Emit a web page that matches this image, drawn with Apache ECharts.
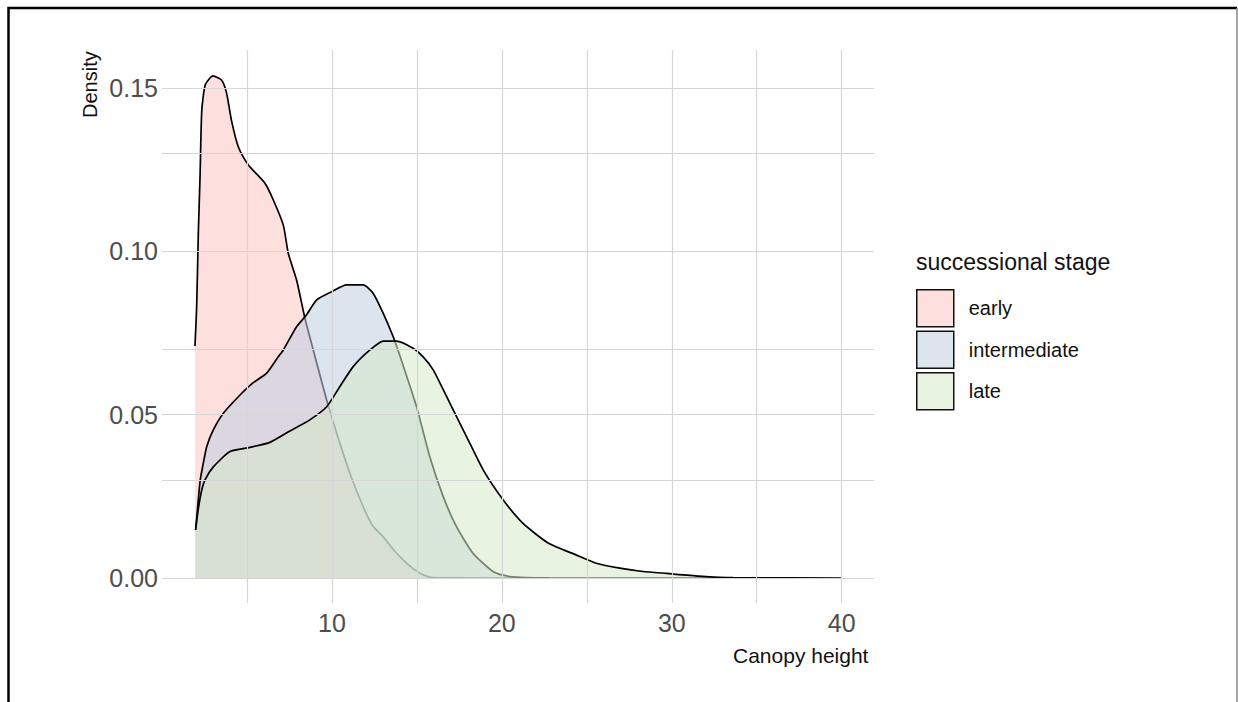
<!DOCTYPE html>
<html>
<head>
<meta charset="utf-8">
<script src="https://cdn.jsdelivr.net/npm/echarts@6/dist/echarts.min.js"></script>
<style>html,body{margin:0;padding:0;background:#fff;}#c{width:1238px;height:702px;}</style>
</head>
<body>
<div id="c"></div>
<script>
// ---- data ----
const stages = ['early', 'intermediate', 'late'];
const fillColors = ['rgba(251,197,193,0.55)', 'rgba(191,206,224,0.55)', 'rgba(213,233,202,0.55)'];

const earlyX = [1.94, 2.04, 2.14, 2.24, 2.34, 2.55, 3.0, 3.5, 3.8, 4.09, 4.49, 5.08, 5.6, 6.06, 6.55, 7.14, 7.43, 7.92, 8.41, 8.9, 9.3, 9.69, 10.28, 11.06, 11.84, 12.4, 13.02, 13.6, 14.2, 14.8, 15.4, 15.9, 20, 33.6];
const earlyY = [0.071, 0.083, 0.106, 0.123, 0.143, 0.151, 0.1537, 0.1524, 0.1484, 0.140, 0.132, 0.1264, 0.1235, 0.1208, 0.1157, 0.108, 0.0994, 0.0912, 0.0795, 0.0698, 0.062, 0.0545, 0.0443, 0.032, 0.0218, 0.016, 0.0126, 0.0088, 0.0055, 0.0028, 0.0009, 0.0001, 0, 0];

const interX = [1.98, 2.1, 2.25, 2.43, 2.63, 3.02, 3.61, 4.59, 5.3, 6.16, 6.84, 7.14, 7.92, 8.5, 9.1, 9.98, 10.86, 11.84, 12.43, 13.02, 13.6, 14.0, 14.98, 15.76, 16.55, 17.33, 18.3, 19.5, 20.5, 21.5, 22.8];
const interY = [0.0147, 0.0218, 0.03, 0.0351, 0.0402, 0.0453, 0.0504, 0.056, 0.0595, 0.0627, 0.0677, 0.0698, 0.0769, 0.0805, 0.0851, 0.0876, 0.0897, 0.0897, 0.0871, 0.081, 0.0739, 0.068, 0.0524, 0.0371, 0.0249, 0.0157, 0.0076, 0.0019, 0.0004, 0.0001, 0];

const lateX = [1.98, 2.1, 2.3, 2.53, 3.02, 4.0, 5.18, 6.35, 7.53, 8.7, 9.69, 10.47, 11.25, 12.24, 13.02, 13.8, 14.78, 15.37, 15.96, 16.94, 17.92, 18.9, 20.08, 21.25, 22.7, 24.39, 25.56, 26.94, 28.3, 29.7, 31.6, 33.6, 40];
const lateY = [0.0147, 0.0198, 0.026, 0.030, 0.034, 0.0387, 0.040, 0.0415, 0.045, 0.0484, 0.0524, 0.0586, 0.0647, 0.0698, 0.0725, 0.0725, 0.0703, 0.0677, 0.0637, 0.0535, 0.0433, 0.0331, 0.0239, 0.0167, 0.0108, 0.007, 0.0045, 0.003, 0.002, 0.0014, 0.0006, 0.0001, 0];

const xTickLabels = [10, 20, 30, 40];
const yTickLabels = [0, 0.05, 0.10, 0.15];
const xGrid = [5, 10, 15, 20, 25, 30, 35, 40];
const yGrid = [0, 0.025, 0.05, 0.075, 0.10, 0.125, 0.15];

// ---- chart ----
const FONT = "'Liberation Sans', Arial, sans-serif";
const xs = [earlyX, interX, lateX];
const ys = [earlyY, interY, lateY];
const pairs = (x, y) => x.map((v, i) => [v, y[i]]);

const chart = echarts.init(document.getElementById('c'), null, {renderer: 'svg'});

const series = [{
  type: 'line', name: '_grid', data: [], z: 1, silent: true,
  markLine: {
    silent: true, symbol: ['none', 'none'], animation: false,
    label: {show: false},
    lineStyle: {color: '#d6d6d6', width: 1.2, type: 'solid'},
    emphasis: {disabled: true},
    data: xGrid.map(v => ({xAxis: v})).concat(yGrid.map(v => ({yAxis: v})))
  }
}];
stages.forEach((s, i) => {
  series.push({
    type: 'line', name: s, data: pairs(xs[i], ys[i]), z: 2 + i,
    showSymbol: false, symbol: 'none', smooth: 0.2,
    lineStyle: {color: '#000', width: 1.7},
    itemStyle: {color: fillColors[i]},
    areaStyle: {color: fillColors[i], opacity: 1, origin: 0},
    emphasis: {disabled: true}, animation: false
  });
});

chart.setOption({
  animation: false,
  backgroundColor: '#fff',
  grid: {left: 162, right: 364, top: 50, bottom: 99, containLabel: false},
  title: {
    text: 'successional stage', left: 916, top: 250,
    textStyle: {fontFamily: FONT, fontSize: 23, fontWeight: 'normal', color: '#111'}, padding: 0
  },
  legend: {
    data: stages.map((s, i) => ({name: s, icon: 'rect', itemStyle: {color: fillColors[i], borderColor: '#111', borderWidth: 1.5}})),
    orient: 'vertical', left: 916, top: 289, itemWidth: 37, itemHeight: 37, itemGap: 3, padding: 0,
    selectedMode: false,
    textStyle: {fontFamily: FONT, fontSize: 20, color: '#111', padding: [3, 0, 0, 10]}
  },
  xAxis: {
    type: 'value', min: 0, max: 41.9,
    axisLine: {show: false, onZero: false}, axisTick: {show: false}, splitLine: {show: false},
    axisLabel: {customValues: xTickLabels, fontFamily: FONT, fontSize: 25, color: '#4d4d4d', margin: 7}
  },
  yAxis: {
    type: 'value', min: -0.00765, max: 0.1616,
    axisLine: {show: false}, axisTick: {show: false}, splitLine: {show: false},
    axisLabel: {customValues: yTickLabels, fontFamily: FONT, fontSize: 25, color: '#4d4d4d', margin: 4,
      formatter: v => Number(v).toFixed(2)}
  },
  graphic: [
    {type: 'text', left: 733, top: 645, style: {text: 'Canopy height', font: "21px 'Liberation Sans', Arial, sans-serif", fill: '#111'}},
    {type: 'text', x: 80, y: 118, rotation: Math.PI / 2, style: {text: 'Density', font: "20px 'Liberation Sans', Arial, sans-serif", fill: '#111', align: 'left', verticalAlign: 'top'}},
    {type: 'polyline', shape: {points: [[8.5, 702], [8.5, 8], [1237, 8]]}, style: {stroke: '#000', lineWidth: 2.5, fill: null}},
    {type: 'line', shape: {x1: 1237, y1: 8, x2: 1237, y2: 702}, style: {stroke: '#888', lineWidth: 1.5}}
  ],
  series: series
});
</script>
</body>
</html>
